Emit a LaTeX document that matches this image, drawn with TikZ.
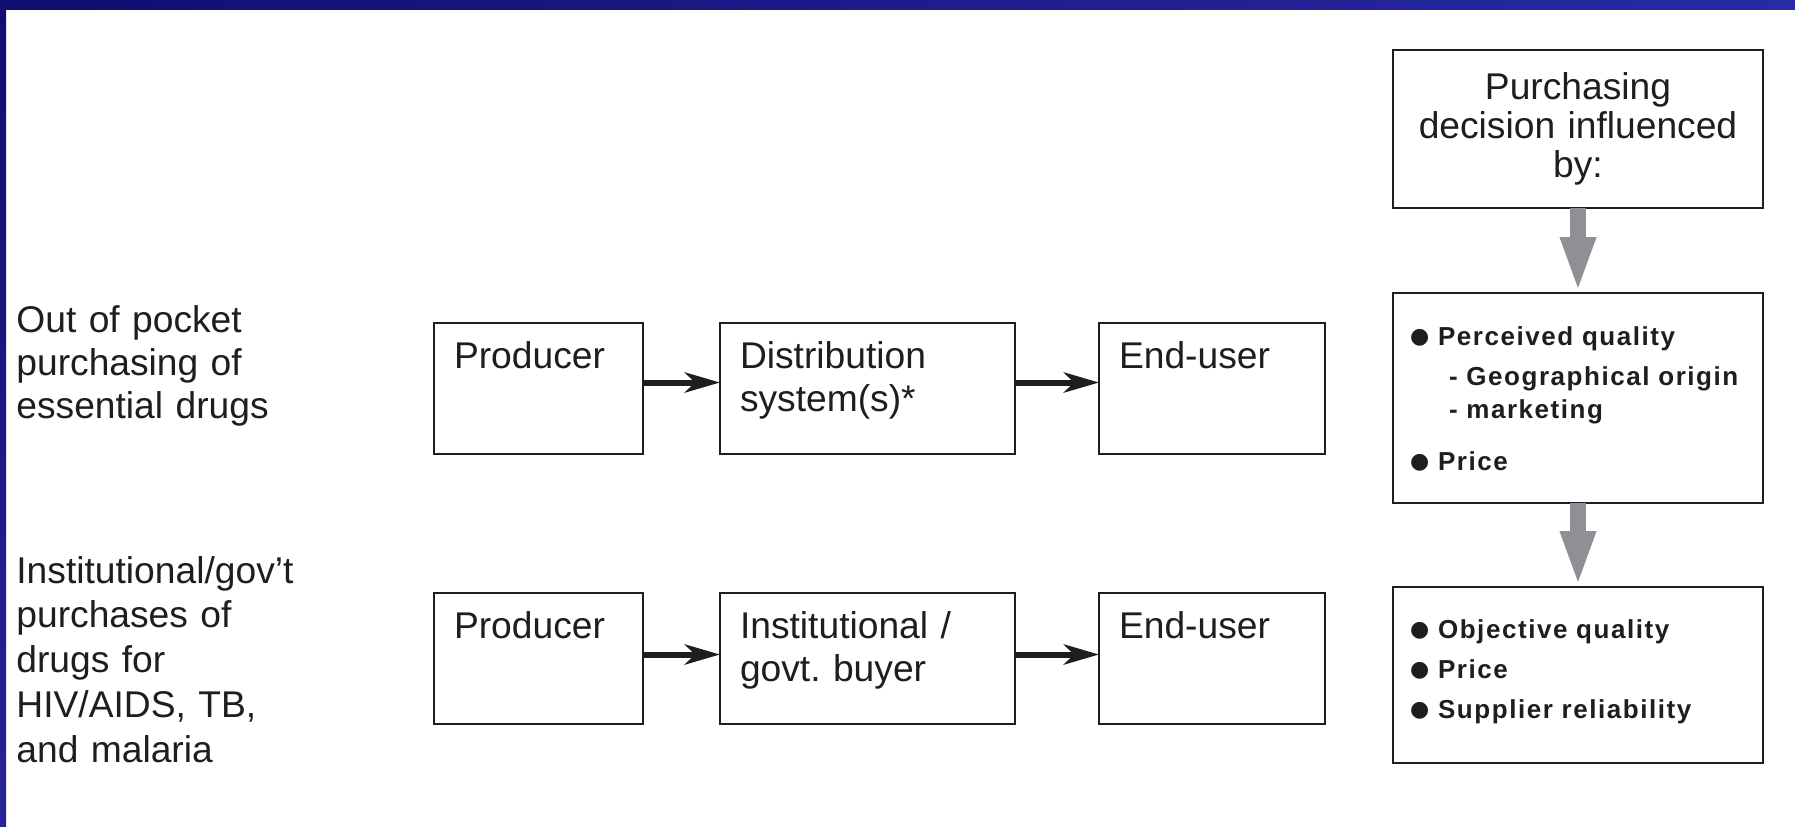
\documentclass[tikz,border=0pt]{standalone}
\usepackage{fontspec}
\setmainfont{Liberation Sans}
\newfontfamily\listfont{Liberation Sans}[LetterSpace=6]
\newfontfamily\dotfont{DejaVu Sans}
\usetikzlibrary{positioning,arrows.meta}

\definecolor{framenavy}{RGB}{14,14,112}
\definecolor{framenavylight}{RGB}{42,42,164}
\definecolor{arrowgray}{RGB}{142,144,150}
\definecolor{inkblack}{RGB}{30,30,30}

\newcommand{\itembullet}{\makebox[12.5pt][l]{\hspace*{-1.5pt}\raisebox{0.8pt}{\dotfont\fontsize{11}{11}\selectfont ●}}}

\tikzset{
  supply label/.style={anchor=base west, inner sep=0pt, text width=160pt, align=left,
    font=\fontsize{18.6}{21.5}\selectfont, text=inkblack},
  supply box/.style={rectangle, draw=inkblack, line width=1.25pt, outer sep=0pt,
    inner xsep=10pt, inner ysep=0pt, text width=#1, text height=22.5pt, text depth=43pt,
    align=left, font=\fontsize{18.6}{21.5}\selectfont, text=inkblack},
  supply edge/.style={draw=inkblack, line width=3pt, -{Stealth[length=17.5pt,width=10pt,inset=5pt]}},
  influence head/.style={rectangle, draw=inkblack, line width=1.25pt, outer sep=0pt,
    inner xsep=10pt, inner ysep=0pt, text width=165pt, minimum height=79pt, align=center,
    font=\fontsize{18.6}{19.5}\selectfont, text=inkblack},
  influence box/.style 2 args={rectangle, draw=inkblack, line width=1.25pt, outer sep=0pt,
    inner xsep=10pt, inner ysep=0pt, text width=165pt, text height=#1, text depth=#2,
    align=left, font=\listfont\bfseries\fontsize{13}{16.5}\selectfont, text=inkblack},
  influence edge/.style={draw=arrowgray, line width=8pt, -{Triangle[length=28pt,width=16pt]}},
}

\begin{document}
\begin{tikzpicture}[x=0.5pt, y=-0.5pt]
    \useasboundingbox (0,0) rectangle (1795,826);
    \fill[white] (0,0) rectangle (1795,826);
    \shade[left color=framenavy, right color=framenavylight] (0,0) rectangle (1795,9);
    \shade[top color=framenavy, bottom color=framenavylight!80!framenavy] (0,0) rectangle (6,826);

    % the two buying routes
    \node (lblpocket) [supply label] at (16,332) {Out of pocket\\purchasing of\\essential drugs};
    \node (lblgovt) [supply label, font=\fontsize{18.6}{22.4}\selectfont] at (16,583)
      {Institutional/gov’t\\purchases of\\drugs for\\HIV/AIDS, TB,\\and malaria};

    \node (prodA) [supply box=84.5pt, anchor=north west] at (434,323) {Producer};
    \node (distA) [supply box=127.5pt, right=38.5pt of prodA] {Distribution\\system(s)*};
    \node (userA) [supply box=93pt, right=42pt of distA] {End-user};
    \node (prodB) [supply box=84.5pt, below=69.5pt of prodA] {Producer};
    \node (distB) [supply box=127.5pt, right=38.5pt of prodB] {Institutional /\\govt.\ buyer};
    \node (userB) [supply box=93pt, right=42pt of distB] {End-user};
    \draw[supply edge] ([yshift=3pt]prodA.east) -- ([yshift=3pt]distA.west);
    \draw[supply edge] ([yshift=3pt]distA.east) -- ([yshift=3pt]userA.west);
    \draw[supply edge] ([yshift=2pt]prodB.east) -- ([yshift=2pt]distB.west);
    \draw[supply edge] ([yshift=2pt]distB.east) -- ([yshift=2pt]userB.west);

    % what the decision depends on
    \node (decision) [influence head, anchor=north] at (1578,50) {Purchasing\\decision influenced\\by:};
    \node (perceived) [influence box={26pt}{79pt}, below=42.5pt of decision]
      {\itembullet Perceived quality\\[3.5pt]
       \hspace*{18pt}- Geographical~origin\\
       \hspace*{18pt}- marketing\\[9.5pt]
       \itembullet Price};
    \node (objective) [influence box={25.5pt}{62.5pt}, below=42pt of perceived]
      {\itembullet Objective quality\\[3.5pt]
       \itembullet Price\\[3.5pt]
       \itembullet Supplier reliability};
    \draw[influence edge] (decision) -- (perceived);
    \draw[influence edge] (perceived) -- (objective);
\end{tikzpicture}
\end{document}
